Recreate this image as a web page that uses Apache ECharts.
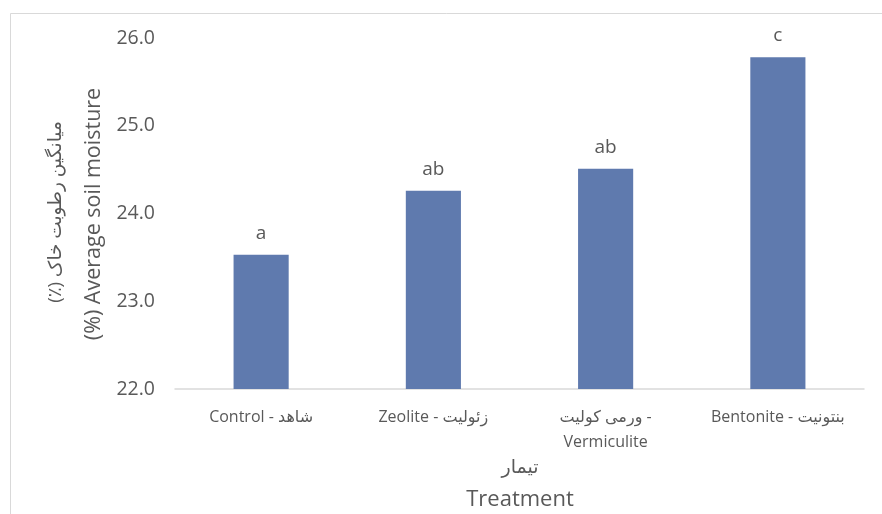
<!DOCTYPE html>
<html><head><meta charset="utf-8">
<script src="https://cdn.jsdelivr.net/npm/echarts@6/dist/echarts.min.js"></script>
<style>html,body{margin:0;padding:0;background:#fff}#c{width:882px;height:514px}</style>
</head><body><div id="c"></div>
<script>
var categories = ['Control - شاهد', 'Zeolite - زئولیت', 'ورمی کولیت -\nVermiculite', 'Bentonite - بنتونیت'];
var values = [23.53, 24.26, 24.51, 25.78];
var letters = ['a', 'ab', 'ab', 'c'];
var yTicks = [22, 23, 24, 25, 26];

var font = '"Open Sans", "Noto Sans", "DejaVu Sans", sans-serif';
var txt = '#595959';
var chart = echarts.init(document.getElementById('c'), null, {renderer: 'canvas'});
chart.setOption({
  animation: false,
  backgroundColor: '#fff',
  grid: {left: 175, right: 18, top: 38, bottom: 125, containLabel: false},
  xAxis: {
    type: 'category', data: categories,
    axisLine: {lineStyle: {color: '#d9d9d9', width: 1.5}},
    axisTick: {show: false},
    axisLabel: {interval: 0, hideOverlap: false, color: txt, fontSize: 16, fontFamily: font, margin: 16, lineHeight: 25}
  },
  yAxis: {
    type: 'value', min: yTicks[0], max: yTicks[yTicks.length - 1], interval: 1,
    axisLine: {show: false}, axisTick: {show: false}, splitLine: {show: false},
    axisLabel: {color: txt, fontSize: 19.5, fontFamily: font, margin: 20,
      formatter: function (v) { return v.toFixed(1); }}
  },
  series: [{
    type: 'bar', data: values, barWidth: '32%',
    itemStyle: {color: '#5f7aae'},
    label: {show: true, position: 'top', distance: 12, color: txt, fontSize: 19, fontFamily: font,
      formatter: function (p) { return letters[p.dataIndex]; }}
  }],
  graphic: [
    {type: 'rect', shape: {x: 10.5, y: 13.5, width: 1000, height: 700}, style: {fill: 'none', stroke: '#d9d9d9', lineWidth: 1}, silent: true},
    {type: 'text', x: 94, y: 214, rotation: Math.PI / 2, style: {text: '(%) Average soil moisture', font: '21.5px ' + font, fill: txt, align: 'center', verticalAlign: 'middle'}},
    {type: 'text', x: 56, y: 212, rotation: Math.PI / 2, style: {text: '(٪) ' + 'میانگین رطوبت خاک', font: '18.5px ' + font, fill: txt, align: 'center', verticalAlign: 'middle'}},
    {type: 'text', x: 520, y: 468, style: {text: 'تیمار', font: '19px ' + font, fill: txt, align: 'center', verticalAlign: 'middle'}},
    {type: 'text', x: 520, y: 500, style: {text: 'Treatment', font: '22px ' + font, fill: txt, align: 'center', verticalAlign: 'middle'}}
  ]
});
</script></body></html>
